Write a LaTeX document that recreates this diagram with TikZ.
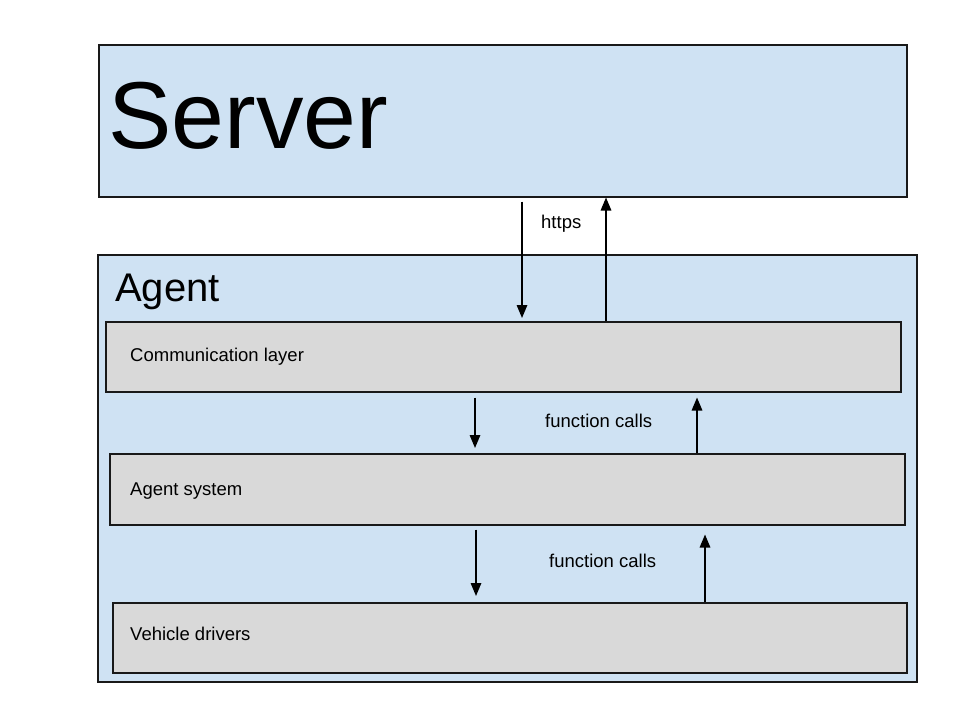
\documentclass[tikz,border=0pt]{standalone}
\usepackage{fontspec}
\setmainfont{Liberation Sans}
\usetikzlibrary{arrows.meta}
\definecolor{paleblue}{HTML}{CFE2F3}
\definecolor{layergray}{HTML}{D9D9D9}
\begin{document}
\begin{tikzpicture}[x=1pt,y=-1pt,
  box/.style={draw=black!90,line width=1.5pt,inner sep=0pt,anchor=north west},
  outerbox/.style={box,fill=paleblue},
  layerbox/.style={box,fill=layergray},
  lbl/.style={font=\fontsize{18.5}{22}\selectfont,inner sep=0pt,anchor=base west},
  arr/.style={line width=1.5pt,-{Triangle[width=10.5pt,length=13pt]}}]
\useasboundingbox (0,0) rectangle (960,720);
\fill[white] (0,0) rectangle (960,720);
% boxes
\node[outerbox,minimum width=808pt,minimum height=152pt] (server) at (98,44) {};
\node[outerbox,minimum width=819pt,minimum height=427pt] (agent) at (97,254) {};
\node[layerbox,minimum width=795pt,minimum height=70pt] (comm) at (105,321) {};
\node[layerbox,minimum width=795pt,minimum height=71pt] (sys) at (109,453) {};
\node[layerbox,minimum width=794pt,minimum height=70pt] (drv) at (112,602) {};
% titles
\node[inner sep=0pt,anchor=base west,font=\fontsize{95}{100}\selectfont] (servert) at (108,148) {Server};
\node[inner sep=0pt,anchor=base west,font=\fontsize{40}{46}\selectfont] (agentt) at (115,301) {Agent};
\node[lbl] (commt) at (130,361) {Communication layer};
\node[lbl] (syst) at (130,495.5) {Agent system};
\node[lbl] (drvt) at (130,640.5) {Vehicle drivers};
% connector labels
\node[lbl] (l1) at (541,228.6) {https};
\node[lbl] (l2) at (545,427.6) {function calls};
\node[lbl] (l3) at (549,567.6) {function calls};
% arrow x positions
\coordinate (a1) at (522,0);
\coordinate (a2) at (606,0);
\coordinate (b1) at (475,0);
\coordinate (b2) at (697,0);
\coordinate (c1) at (476,0);
\coordinate (c2) at (705,0);
% arrows
\draw[arr,shorten <=4pt,shorten >=3pt] (server.south -| a1) -- (comm.north -| a1);
\draw[arr,shorten >=0pt] (comm.north -| a2) -- (server.south -| a2);
\draw[arr,shorten <=5pt,shorten >=5pt] (comm.south -| b1) -- (sys.north -| b1);
\draw[arr,shorten >=5pt] (sys.north -| b2) -- (comm.south -| b2);
\draw[arr,shorten <=4pt,shorten >=6pt] (sys.south -| c1) -- (drv.north -| c1);
\draw[arr,shorten >=9pt] (drv.north -| c2) -- (sys.south -| c2);
\end{tikzpicture}
\end{document}
